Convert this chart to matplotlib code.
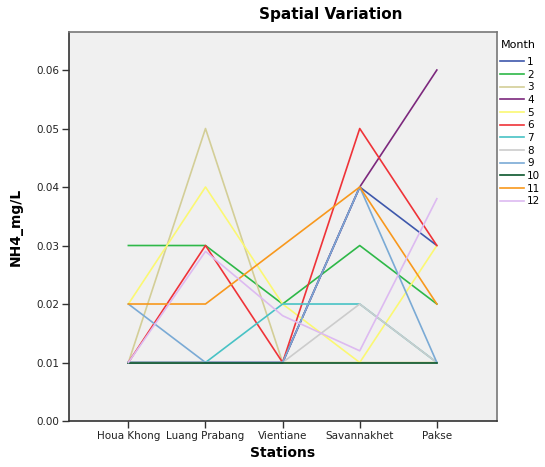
import numpy as np
import matplotlib.pyplot as plt

stations = ['Houa Khong', 'Luang Prabang', 'Vientiane', 'Savannakhet', 'Pakse']
months = [str(m) for m in range(1, 13)]

# NH4 (mg/L) per month, one value per station
m1 = [0.01, 0.01, 0.01, 0.04, 0.03]
m2 = [0.03, 0.03, 0.02, 0.03, 0.02]
m3 = [0.01, 0.05, 0.01, 0.01, 0.01]
m4 = [0.01, 0.01, 0.01, 0.04, 0.06]
m5 = [0.02, 0.04, 0.02, 0.01, 0.03]
m6 = [0.01, 0.03, 0.01, 0.05, 0.03]
m7 = [0.01, 0.01, 0.02, 0.02, 0.01]
m8 = [0.01, 0.01, 0.01, 0.02, 0.01]
m9 = [0.02, 0.01, 0.01, 0.04, 0.01]
m10 = [0.01, 0.01, 0.01, 0.01, 0.01]
m11 = [0.02, 0.02, 0.03, 0.04, 0.02]
m12 = [0.01, 0.029, 0.018, 0.012, 0.038]
series = [m1, m2, m3, m4, m5, m6, m7, m8, m9, m10, m11, m12]

colors = ['#3E58AC', '#2EB848', '#D3CE97', '#7C287D', '#FBF873', '#EF3338',
          '#48C2C5', '#CCCCCC', '#7AAAD5', '#0A562C', '#F8981D', '#DDBAF1']

fig = plt.figure(figsize=(5.45, 4.67), dpi=100)
ax = fig.add_axes([69 / 545, 1 - 421 / 467, (497 - 69) / 545, (421 - 32) / 467])
ax.set_facecolor('#F0F0F0')

x = np.arange(len(stations))
for vals, c, lab in zip(series, colors, months):
    ax.plot(x, vals, color=c, lw=1.2, label=lab)

ax.set_xlim(-0.77, 4.78)
ax.set_ylim(0, 0.0665)
ax.set_xticks(x)
ax.set_xticklabels(stations, fontsize=7.5, color='#222222')
ax.set_yticks(np.arange(0, 0.061, 0.01))
ax.set_yticklabels(['%.2f' % v for v in np.arange(0, 0.061, 0.01)],
                   fontsize=7.5, color='#222222')
ax.tick_params(length=5, width=1, color='#333333', pad=2)

for side in ['left', 'bottom']:
    ax.spines[side].set_color('#333333')
    ax.spines[side].set_linewidth(1.2)
for side in ['top', 'right']:
    ax.spines[side].set_color('#777777')
    ax.spines[side].set_linewidth(1.2)

ax.set_xlabel('Stations', fontsize=10, fontweight='bold', labelpad=4)
ax.set_ylabel('NH4_mg/L', fontsize=10, fontweight='bold', labelpad=10)
fig.text(331 / 545, 1 - 15 / 467, 'Spatial Variation', ha='center', va='center',
         fontsize=11, fontweight='bold')

# legend title drawn separately so the gap above the entries can be set
fig.text(501 / 545, 1 - 45 / 467, 'Month', ha='left', va='center', fontsize=8)
leg = ax.legend(loc='upper left', bbox_to_anchor=(500 / 545, 1 - 57 / 467),
                bbox_transform=fig.transFigure, frameon=False, fontsize=7.5,
                handlelength=2.3, handletextpad=0.3, labelspacing=0.255,
                borderaxespad=0, borderpad=0)

fig.savefig('out.png', dpi=100)
